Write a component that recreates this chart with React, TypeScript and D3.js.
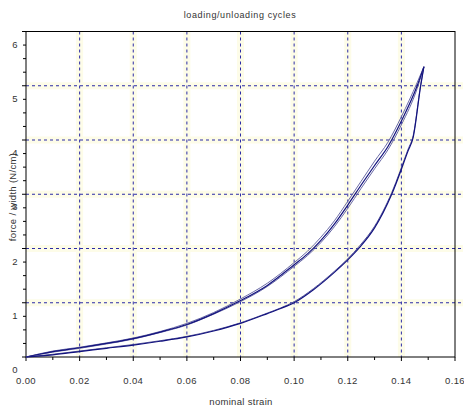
import * as d3 from "d3"
import React, { useEffect, useRef } from "react"

// axis ticks
const strainTicks = [0, 0.02, 0.04, 0.06, 0.08, 0.1, 0.12, 0.14, 0.16]
const forceTicks = [0, 1, 2, 3, 4, 5, 6]

// loading branches (three cycles, nearly on top of each other)
const loadStrain = [0, 0.01, 0.02, 0.03, 0.04, 0.05, 0.06, 0.07, 0.08, 0.09, 0.1, 0.105, 0.11, 0.115, 0.12, 0.125, 0.13, 0.135, 0.14, 0.1459, 0.1484]
const loadForce1 = [0, 0.1, 0.17, 0.25, 0.34, 0.46, 0.6, 0.8, 1.04, 1.32, 1.7, 1.9, 2.15, 2.45, 2.8, 3.17, 3.53, 3.88, 4.35, 5.0, 5.35]
const loadForce2 = [0, 0.11, 0.18, 0.26, 0.35, 0.47, 0.62, 0.82, 1.07, 1.36, 1.74, 1.95, 2.21, 2.51, 2.87, 3.24, 3.61, 3.96, 4.43, 5.06, 5.35]
const loadForce3 = [0, 0.09, 0.16, 0.24, 0.33, 0.45, 0.59, 0.79, 1.02, 1.3, 1.67, 1.87, 2.11, 2.4, 2.74, 3.11, 3.47, 3.82, 4.28, 4.95, 5.35]

// unloading branches
const unloadStrain = [0, 0.01, 0.02, 0.03, 0.04, 0.05, 0.06, 0.07, 0.08, 0.09, 0.095, 0.1, 0.1072, 0.115, 0.12, 0.1246, 0.13, 0.1364, 0.1425, 0.1444, 0.1472, 0.1484]
const unloadForce1 = [0, 0.04, 0.1, 0.16, 0.22, 0.29, 0.37, 0.48, 0.62, 0.8, 0.895, 1.0, 1.24, 1.56, 1.79, 2.03, 2.38, 3.0, 3.8, 4.05, 5.0, 5.35]
const unloadForce2 = [0, 0.05, 0.11, 0.17, 0.23, 0.3, 0.38, 0.49, 0.63, 0.81, 0.905, 1.02, 1.26, 1.58, 1.81, 2.06, 2.41, 3.03, 3.83, 4.08, 5.02, 5.35]

const W = 464, H = 410
const left = 26, right = 455, top = 31.5, bottom = 357
const gridColor = "#2b2ba6"
const lineColor = "#12127e"
const font = "'Liberation Sans', Arial, sans-serif"

export default function App() {
  const ref = useRef<SVGSVGElement>(null)

  useEffect(() => {
    const svg = d3.select(ref.current)
    svg.selectAll("*").remove()

    const x = d3.scaleLinear().domain([0, 0.16]).range([left, right])
    const y = d3.scaleLinear().domain([0, 6]).range([bottom, top])

    svg.append("rect").attr("width", W).attr("height", H).attr("fill", "#fff")

    const vGrid = strainTicks.slice(1, -1)
    const hGrid = forceTicks.slice(1, -1)

    //faint yellow halo round the grid lines
    const halo = svg.append("g").attr("stroke", "#fdfce8").attr("stroke-width", 7)
    halo.selectAll("line.v").data(vGrid).enter().append("line")
      .attr("x1", d => x(d)).attr("x2", d => x(d)).attr("y1", top).attr("y2", bottom)
    halo.selectAll("line.h").data(hGrid).enter().append("line")
      .attr("x1", left).attr("x2", right + 8).attr("y1", d => y(d)).attr("y2", d => y(d))

    const grid = svg.append("g").attr("stroke", gridColor).attr("stroke-dasharray", "3,3")
    grid.selectAll("line.v").data(vGrid).enter().append("line")
      .attr("x1", d => x(d)).attr("x2", d => x(d)).attr("y1", top).attr("y2", bottom)
      .attr("stroke-width", 1)
    grid.selectAll("line.h").data(hGrid).enter().append("line")
      .attr("x1", left).attr("x2", right + 8).attr("y1", d => y(d)).attr("y2", d => y(d))
      .attr("stroke-width", 1.2)

    //frame
    svg.append("rect")
      .attr("x", left).attr("y", top)
      .attr("width", right - left).attr("height", bottom - top)
      .attr("fill", "none").attr("stroke", "#000").attr("stroke-width", 1)

    //minor + major ticks
    const xMinor = d3.range(0, 17).map(i => i * 0.01)
    svg.append("g").attr("stroke", "#000")
      .selectAll("line").data(xMinor).enter().append("line")
      .attr("x1", d => x(d)).attr("x2", d => x(d))
      .attr("y1", bottom).attr("y2", (d, i) => bottom + (i % 2 === 0 ? 4 : 3))
    const yMinor = d3.range(0, 25).map(i => i * 0.25)
    svg.append("g").attr("stroke", "#000")
      .selectAll("line").data(yMinor).enter().append("line")
      .attr("x1", (d, i) => left - (i % 4 === 0 ? 4 : 3)).attr("x2", left)
      .attr("y1", d => y(d)).attr("y2", d => y(d))

    //tick labels
    svg.append("g").attr("font-family", font).attr("font-size", 9.5).attr("fill", "#333")
      .attr("text-anchor", "middle").attr("letter-spacing", 0.4)
      .selectAll("text").data(strainTicks).enter().append("text")
      .attr("x", d => x(d)).attr("y", 384)
      .text(d => d3.format(".2f")(d))
    svg.append("g").attr("font-family", font).attr("font-size", 9.5).attr("fill", "#333")
      .attr("text-anchor", "middle")
      .selectAll("text").data(forceTicks).enter().append("text")
      .attr("x", 15).attr("y", d => y(d) + 16)
      .text(d => d)

    //curves
    const line = d3.line<[number, number]>()
      .x(d => x(d[0])).y(d => y(d[1]))
      .curve(d3.curveMonotoneX)
    const series = [
      { s: loadStrain, f: loadForce2, c: "#6a6aa6", w: 1 },
      { s: loadStrain, f: loadForce3, c: "#6a6aa6", w: 1 },
      { s: loadStrain, f: loadForce1, c: lineColor, w: 1.2 },
      { s: unloadStrain, f: unloadForce2, c: "#5a5a9e", w: 1 },
      { s: unloadStrain, f: unloadForce1, c: lineColor, w: 1.2 },
    ]
    svg.append("g").attr("fill", "none")
      .selectAll("path").data(series).enter().append("path")
      .attr("d", d => line(d.s.map((v, i) => [v, d.f[i]] as [number, number])))
      .attr("stroke", d => d.c)
      .attr("stroke-width", d => d.w)

    //titles
    svg.append("text").attr("x", 240).attr("y", 18)
      .attr("font-family", font).attr("font-size", 9).attr("fill", "#333")
      .attr("text-anchor", "middle").attr("letter-spacing", 0.6)
      .text("loading/unloading cycles")
    svg.append("text").attr("x", 241).attr("y", 405)
      .attr("font-family", font).attr("font-size", 9.5).attr("fill", "#333")
      .attr("text-anchor", "middle").attr("letter-spacing", 0.3)
      .text("nominal strain")
    svg.append("text")
      .attr("transform", "translate(16,197) rotate(-90)")
      .attr("font-family", font).attr("font-size", 9.5).attr("fill", "#333")
      .attr("text-anchor", "middle").attr("letter-spacing", 0.3)
      .text("force / width (N/cm)")
  }, [])

  return (
    <svg
      ref={ref}
      width={W}
      height={H}
      style={{ position: "absolute", left: 0, top: 0, display: "block" }}
    />
  )
}
